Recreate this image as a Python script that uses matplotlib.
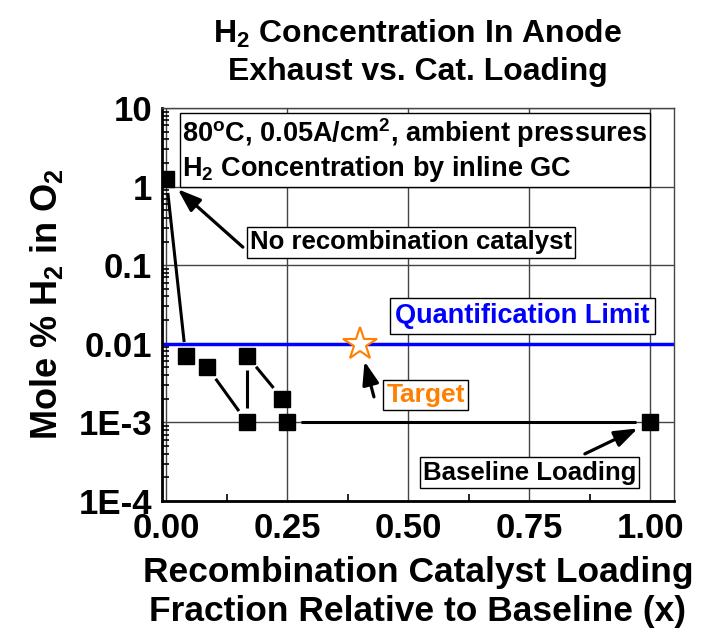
import numpy as np
import matplotlib
matplotlib.use("Agg")
import matplotlib.pyplot as plt
from matplotlib.ticker import LogLocator, MultipleLocator, NullFormatter

plt.rcParams["font.family"] = ["Liberation Sans", "DejaVu Sans"]
plt.rcParams["font.weight"] = "bold"
plt.rcParams["mathtext.default"] = "regular"

# ---------- Data ----------
loading = [0.0, 0.04, 0.085, 0.167, 0.167, 0.24, 0.25, 1.0]
h2_mole_pct = [1.25, 0.007, 0.005, 0.001, 0.007, 0.002, 0.001, 0.001]

quant_limit = 0.01
target_x, target_y = 0.40, 0.01

y_ticks = [1e-4, 1e-3, 1e-2, 1e-1, 1, 10]
y_tick_labels = ["1E-4", "1E-3", "0.01", "0.1", "1", "10"]
x_ticks = [0.0, 0.25, 0.50, 0.75, 1.00]
x_tick_labels = ["0.00", "0.25", "0.50", "0.75", "1.00"]

# ---------- Figure ----------
fig = plt.figure(figsize=(7.03, 6.38), dpi=100)
ax = fig.add_axes([0.2304, 0.2147, 0.7283, 0.6160])
ax.set_yscale("log")
ax.set_xlim(-0.009, 1.049)
ax.set_ylim(1e-4, 10)

ax.set_xticks(x_ticks)
ax.set_xticklabels(x_tick_labels)
ax.set_yticks(y_ticks)
ax.set_yticklabels(y_tick_labels)
ax.xaxis.set_minor_locator(MultipleLocator(0.125))
ax.yaxis.set_minor_locator(LogLocator(base=10, subs=np.arange(2, 10)))
ax.yaxis.set_minor_formatter(NullFormatter())
ax.tick_params(axis="both", which="both", direction="in", top=False, right=False,
               labelsize=25, width=1.2)
ax.tick_params(axis="both", which="major", length=0)
ax.tick_params(axis="y", which="major", pad=7)
ax.tick_params(axis="x", which="major", pad=8)
ax.tick_params(axis="both", which="minor", length=5)

ax.grid(True, which="major", color="#444444", linewidth=1.0, zorder=0)
ax.set_axisbelow(True)
for side in ["left", "bottom"]:
    ax.spines[side].set_linewidth(2.0)
    ax.spines[side].set_color("black")
for side in ["top", "right"]:
    ax.spines[side].set_linewidth(1.0)
    ax.spines[side].set_color("#444444")

# quantification limit
ax.axhline(quant_limit, color="#0000ff", linewidth=2.5, zorder=2)

# connecting lines with a gap round every symbol
gap = 14.0
pts = ax.transData.transform(np.column_stack([loading, h2_mole_pct]))
for (x0, y0), (x1, y1) in zip(pts[:-1], pts[1:]):
    d = np.hypot(x1 - x0, y1 - y0)
    if d <= 2 * gap:
        continue
    ux, uy = (x1 - x0) / d, (y1 - y0) / d
    seg = np.array([[x0 + ux * gap, y0 + uy * gap], [x1 - ux * gap, y1 - uy * gap]])
    seg = ax.transData.inverted().transform(seg)
    ax.plot(seg[:, 0], seg[:, 1], color="black", linewidth=2.2, solid_capstyle="butt",
            zorder=3)

ax.plot(loading, h2_mole_pct, linestyle="none", marker="s", markersize=11.5,
        color="black", zorder=4)
ax.plot([target_x], [target_y], linestyle="none", marker="*", markersize=25,
        markerfacecolor="white", markeredgecolor="#ff7f00", markeredgewidth=1.5,
        zorder=5)

# ---------- Labels ----------
box = dict(boxstyle="square,pad=0.12", facecolor="white", edgecolor="black",
           linewidth=1.0)
ax.text(0.040, 0.893,
        "80$^o$C, 0.05A/cm$^2$, ambient pressures\nH$_2$ Concentration by inline GC",
        transform=ax.transAxes, ha="left", va="center", fontsize=19.5,
        linespacing=1.2, bbox=dict(box, boxstyle="square,pad=0.1"), zorder=6)
ax.text(0.486, 0.658, "No recombination catalyst", transform=ax.transAxes,
        ha="center", va="center", fontsize=18.5, bbox=box, zorder=6)
ax.text(0.704, 0.471, "Quantification Limit", transform=ax.transAxes,
        ha="center", va="center", fontsize=19.5, color="#0000ff",
        bbox=dict(box, boxstyle="square,pad=0.18"), zorder=6)
ax.text(0.515, 0.270, "Target", transform=ax.transAxes, ha="center", va="center",
        fontsize=19, color="#ff7f00", bbox=box, zorder=6)
ax.text(0.718, 0.0725, "Baseline Loading", transform=ax.transAxes, ha="center",
        va="center", fontsize=18.5, bbox=box, zorder=6)

arrow = dict(arrowstyle="-|>,head_length=1.4,head_width=0.5", color="black",
             linewidth=2.3, shrinkA=0, shrinkB=11)
ax.annotate("", xy=(loading[0], h2_mole_pct[0]), xytext=(0.158, 0.646),
            textcoords="axes fraction", arrowprops=arrow, zorder=6)
ax.annotate("", xy=(target_x, target_y), xytext=(0.414, 0.265),
            textcoords="axes fraction", arrowprops=dict(arrow, shrinkB=13), zorder=6)
ax.annotate("", xy=(loading[-1], h2_mole_pct[-1]), xytext=(0.826, 0.120),
            textcoords="axes fraction", arrowprops=dict(arrow, shrinkB=10), zorder=6)

ax.set_title("H$_2$ Concentration In Anode\nExhaust vs. Cat. Loading",
             fontsize=23, fontweight="bold", pad=20, linespacing=1.3)
ax.set_ylabel("Mole % H$_2$ in O$_2$", fontsize=26, fontweight="bold", labelpad=10)
ax.set_xlabel("Recombination Catalyst Loading\nFraction Relative to Baseline (x)",
              fontsize=25.5, fontweight="bold", labelpad=8, linespacing=1.22)

fig.savefig("out.png", dpi=100)
